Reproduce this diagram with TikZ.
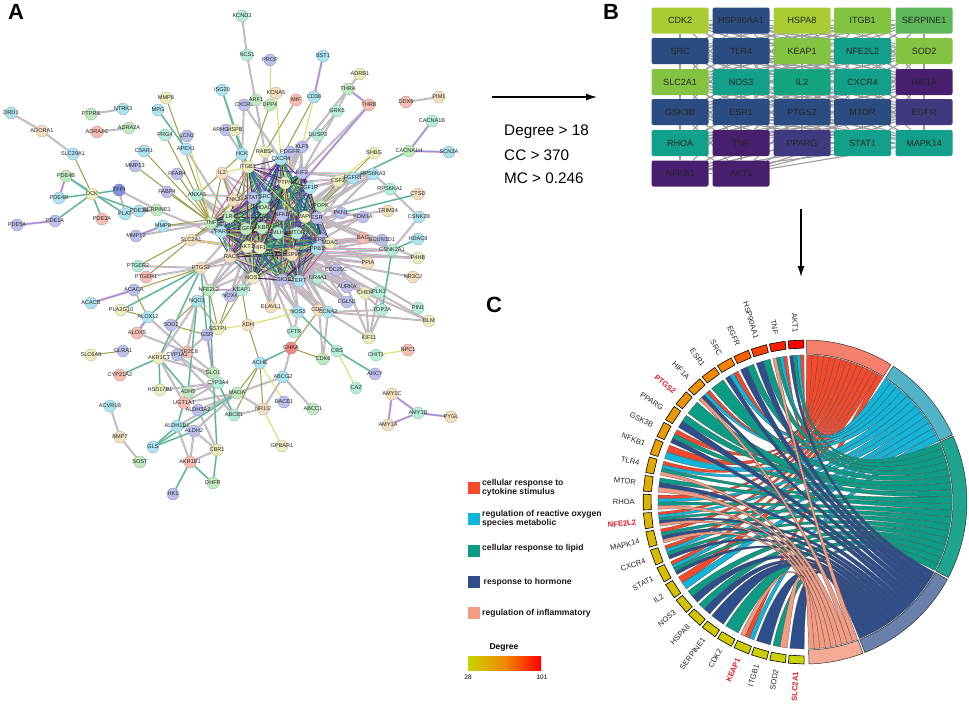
\documentclass[tikz,border=0pt]{standalone}
\usepackage{fontspec}
\setmainfont{Liberation Sans}
\usetikzlibrary{arrows.meta,backgrounds}

\def\cx{805}
\def\cy{502}
\def\rr{147}

\definecolor{nm}{HTML}{B6EEDA}
\definecolor{nb}{HTML}{AEE4F2}
\definecolor{nv}{HTML}{BCC0EC}
\definecolor{nt}{HTML}{F3DFC0}
\definecolor{ng}{HTML}{C0EBBF}
\definecolor{nr}{HTML}{F6BDB2}
\definecolor{ny}{HTML}{EDEDC0}
\definecolor{nd}{HTML}{8090DC}
\definecolor{nc}{HTML}{F08A88}
\definecolor{blime}{HTML}{A9CC35}
\definecolor{bgrn}{HTML}{82C341}
\definecolor{bmid}{HTML}{5DB85A}
\definecolor{bnav}{HTML}{2B4C80}
\definecolor{btea}{HTML}{12A08A}
\definecolor{bil}{HTML}{12A47F}
\definecolor{bpur}{HTML}{471F6E}
\definecolor{bind}{HTML}{3F3A80}
\definecolor{tR}{HTML}{F4492D}
\definecolor{tC}{HTML}{11B5DA}
\definecolor{tT}{HTML}{0C9C86}
\definecolor{tN}{HTML}{2E4F8C}
\definecolor{tS}{HTML}{F39B83}
\definecolor{rampA}{HTML}{C8D400}
\definecolor{rampB}{HTML}{DDB300}
\definecolor{rampC}{HTML}{F58200}
\definecolor{rampD}{HTML}{FF0000}
\definecolor{hitred}{HTML}{E8192C}
\definecolor{hA}{HTML}{C83A9C}
\definecolor{hB}{HTML}{30B060}
\definecolor{hC}{HTML}{6A2CA0}
\definecolor{hD}{HTML}{8C8C28}
\definecolor{hE}{HTML}{0E8080}
\definecolor{hF}{HTML}{303040}
\definecolor{hG}{HTML}{3A50C8}
\definecolor{hH}{HTML}{D8DC60}

\newcommand\hit{\bfseries\color{hitred}}
\newcommand\plain{\color{black!85}}

\newcommand\chordset[5]{%
\foreach \g/\j/\k [count=\t from 0] in {#5} {
\pgfmathsetmacro\ga{360-3.2-6.68*\g-2.8+5.6*\j/\k-90}
\pgfmathsetmacro\gb{\ga+5.6/\k}
\pgfmathsetmacro\ta{#2+(#3-#2)*\t/#4-90}
\pgfmathsetmacro\tb{\ta+(#3-#2)/#4}
\filldraw[chord,fill=#1] (\ga:\rr) -- (\gb:\rr) .. controls (\gb:49) and (\ta:49) .. (\ta:\rr) -- (\tb:\rr) .. controls (\tb:49) and (\ga:49) .. cycle;
}}

\newcommand\termband[3]{%
\draw[line width=0.5pt,draw=black!80,fill=#1] plot[domain=#2:#3,samples=30] ({162*sin(\x)},{-162*cos(\x)}) -- plot[domain=#3:#2,samples=30] ({148*sin(\x)},{-148*cos(\x)}) -- cycle;
}

\tikzset{
gene/.style={circle,inner sep=0pt,minimum size=12pt,line width=0.4pt,font=\fontsize{5.6}{6}\selectfont,text=black!85},
lnkA/.style={line width=0.5pt,draw=hA!55,double=hB!45,double distance=0.9pt},
lnkB/.style={line width=1pt,draw=hD!85},
lnkC/.style={line width=1pt,draw=hH},
lnkD/.style={line width=0.6pt,draw=hA!45,double=hG!60,double distance=1pt},
lnkE/.style={line width=0.5pt,draw=hB!60,double=hE!70,double distance=0.7pt},
hair/.style={line width=0.75pt},
boxgene/.style={rectangle,rounded corners=2pt,minimum width=57pt,minimum height=26pt,inner sep=0pt,font=\fontsize{9}{10}\selectfont,text=black!85},
lnkgrey/.style={line width=1.1pt,draw=black!38},
chord/.style={draw=black!70,line width=0.25pt},
legbox/.style={minimum size=12pt,inner sep=0pt},
legtxt/.style={anchor=west,inner sep=0pt,align=left,font=\fontsize{8.6}{9}\selectfont\bfseries,text=black!90},
glab/.style={anchor=east,inner sep=0pt,font=\fontsize{7.6}{8}\selectfont},
panel/.style={inner sep=0pt,font=\fontsize{22}{22}\selectfont\bfseries},
note/.style={anchor=west,inner sep=0pt,font=\fontsize{15.3}{16}\selectfont}
}

\begin{document}
\begin{tikzpicture}[x=1pt,y=-1pt,>={Latex[length=11pt,width=7pt]}]
\useasboundingbox (0,0) rectangle (969,704);

\node[panel] (labA) at (16,12) {A};
\node[panel] (labB) at (611,12) {B};
\node[panel] (labC) at (494,305) {C};

\foreach \n/\x/\y/\c in {KCND3/242/16/nm,NCS1/247/55/nm,DRD1/11/113/nb,ADORA1/42/131/nt,SLC29A1/73/154/nb,PTPRS/91/114/ng,NTRK3/123/109/nb,ADRA2C/97/132/nr,ADRA2A/129/128/ng,MMP8/166/98/ny,MPG/158/110/nb,ISG20/222/90/nb,CXCR6/244/105/nv,ARHGAP8/226/130/nv,HSPB/235/130/ny,PRG4/165/135/nm,LCN2/187/136/nv,APEX1/186/149/nb,C5AR1/144/151/nb,HCK/242/154/nb,MMP13/135/166/nv,FFAR4/177/174/nv,IL2/222/173/nt,ITGB1/248/167/ny,PDE4B/66/176/ng,DCK/92/194/ny,PDE4D/59/198/nb,TFPI/119/190/nd,FABP4/167/192/nv,ANXA5/197/195/nm,TNK2/233/200/nt,PLAT/125/214/nb,PDE3B/139/211/nb,SERPINE1/157/210/ng,PDE3A/102/219/nr,PDE1A/55/221/nv,PDE5A/17/225/nv,MMP9/163/226/nb,MMP12/136/236/nv,TNF/211/223/ng,TLR4/229/217/ng,PPARG/221/232/nb,SLC2A1/191/240/nt,RAC/230/257/nt,PTGER2/138/266/nm,PTGS2/201/268/nt,PTGER1/146/277/nr,ACACA/134/290/nv,NFE2L2/209/290/ng,KEAP1/242/290/nm,NOX4/230/296/nv,NQO1/197/301/nb,ACACB/91/303/nb,PLA2G10/121/310/ny,ALOX12/148/317/nb,XDH/248/325/nt,SOD2/171/325/nv,GSTP1/218/329/ny,ALOX5/137/333/nr,GSR/207/335/nv,SLC6A5/91/355/ny,GLRA1/123/351/nv,CYP2C8/187/352/nr,CYP1A1/177/355/nv,AKR1C1/159/358/ny,GLO1/213/373/ng,CYP21A2/120/375/nr,CYP3A4/218/383/nm,HSD17B1/160/390/ny,ADH5/188/392/ng,MAOA/237/393/ng,UGT1A1/184/403/nr,ALDH3A2/198/410/nv,ACVR1B/110/406/nb,ABCB1/234/415/nm,ALDH1B1/177/426/nb,ALDH2/194/431/nv,BMP7/120/437/nt,GLS/153/447/nb,CBR1/217/450/ny,AKR1B1/190/462/nr,SOST/140/462/ng,DHFR/213/483/ng,HK1/173/494/nv,PRCP/270/60/nv,BST1/323/56/nb,ADRB1/360/74/ny,THRA/348/89/ng,KCNA5/276/93/nt,ARF1/256/100/ng,DPP4/270/105/ng,MIF/296/100/nr,CD38/314/97/nb,GRK5/337/111/nm,THRB/369/105/nr,DDX6/406/102/nr,PIM1/439/97/nt,CACNA1B/432/121/nm,DUSP3/318/135/nm,KLF5/302/147/nv,PDGFR/290/152/nv,RAB5A/265/152/ny,CACNA1H/409/151/ng,SCN3A/449/152/nb,SHBG/374/153/ny,CXCR4/281/159/nb,KIF2/302/173/nv,FGFR1/353/178/nb,RPS6KA3/373/174/nb,CSF2/338/181/ny,PTPN/285/183/ny,RPS6KA1/390/189/nm,IGF1R/310/188/nb,CTSD/418/194/nt,SRC/265/197/nb,STAT3/253/198/nv,POPK/321/206/ng,PKN1/341/213/nv,TRIM24/388/211/nt,KDM1A/363/217/nv,CSNK2B/419/217/nb,HDAC/264/208/ng,NFKB/282/215/nv,MAPK/305/217/ny,ESR/317/218/nv,EGFR/246/229/ng,FKBP/262/228/ng,MLH/278/233/nm,MTOR/297/233/nm,ERBB/322/240/nv,MDAC/330/243/ny,PPB1/317/249/nb,AKT1/247/247/ny,HIF1/260/248/ny,HSP90/292/255/nt,BAG/363/238/nr,BCUN1D1/382/240/nv,HDAC8/418/239/nb,CSNK2A1/392/250/nm,P4HB/418/258/ny,PPIA/368/263/nt,NR3C2/413/277/nt,NOS2/253/278/ny,GSK3B/282/280/nv,TERT/299/281/nb,NR4A1/318/278/nm,CDC25C/336/270/nv,AURKA/347/287/nv,CHEK/365/293/ny,PLK1/379/292/nm,EGLN1/347/302/nv,PIN1/418/308/nm,ELAVL1/271/307/nt,NOS3/298/312/nb,CDC2/319/310/nt,CCNA2/328/312/nb,TOP2A/382/310/nm,BLM/429/321/ny,CFTR/294/332/nm,KIF11/369/338/ny,CHKA/291/348/nc,NPC1/408/350/nr,CBS/337/351/nm,CHIT1/376/355/nm,CDK6/323/359/ng,ACHE/260/363/nb,AHCY/375/374/nv,ABCG2/283/377/nb,CA2/356/388/nm,AMY1C/392/394/nt,BACE1/284/402/nv,NR1I2/263/409/nt,ABCC1/313/409/ng,AMY1B/418/413/nm,PYGL/451/417/nt,AMY1A/388/425/nt,GPBAR1/282/446/ny}
\node[gene,fill=\c,draw=\c!80!black] (\n) at (\x,\y) {\makebox[0pt]{\n}};

\begin{pgfonlayer}{background}
\fill[white] (0,0) rectangle (969,704);
\foreach \a/\b in {DRD1/ADORA1,ADORA1/SLC29A1,PTPRS/NTRK3,ADRA2C/ADRA2A,KCND3/NCS1,NCS1/RAB5A,DDX6/PIM1,ACVR1B/BMP7,BMP7/SOST,TFPI/PLAT,TFPI/SERPINE1,ALOX12/ALOX5,ALOX5/CYP2C8,ALOX12/CYP2C8,MMP9/TNF,MMP12/TNF,SERPINE1/AKT1,PLAT/SERPINE1,APEX1/AKT1,CXCR6/CXCR4,CXCR6/HCK,ARHGAP8/HCK,GRK5/THRA,GRK5/KIF2,DUSP3/GRK5,THRB/KIF2,KLF5/KIF2,KLF5/AKT1,ADRB1/THRA,THRA/KLF5,CSF2/SRC,FGFR1/KIF2,FGFR1/PTPN,FGFR1/SRC,RPS6KA3/KIF2,RPS6KA3/RPS6KA1,RPS6KA1/CSNK2B,RPS6KA1/MAPK,CSNK2B/CSNK2A1,KDM1A/HIF1,PKN1/SRC,TRIM24/ESR,CSNK2A1/AKT1,BCUN1D1/ERBB,BAG/PPB1,P4HB/HIF1,PPIA/HSP90,NR3C2/HSP90,PIN1/PPB1,BLM/CCNA2,BLM/CHEK,BLM/CDC25C,TOP2A/CCNA2,TOP2A/CDC25C,TOP2A/PLK1,KIF11/CHEK,KIF11/TOP2A,KIF11/PLK1,KIF11/CCNA2,KIF11/AURKA,AURKA/PPB1,CDC25C/AKT1,CHEK/AKT1,PLK1/HIF1,EGLN1/HIF1,CCNA2/HIF1,CDC2/AKT1,NR4A1/AKT1,TERT/AKT1,NOS3/AKT1,NOS3/CFTR,CFTR/HIF1,CDK6/CCNA2,CDK6/CDC2,ABCG2/CHKA,ABCG2/MAOA,ABCG2/ABCC1,ABCG2/NR1I2,NR1I2/MAOA,NR1I2/ABCB1,ELAVL1/AKT1,NOS2/AKT1,GSK3B/AKT1,NFE2L2/KEAP1,NFE2L2/AKT1,KEAP1/HIF1,NOX4/AKT1,ACACB/ACACA,HSD17B1/CYP3A4,ADH5/CYP3A4,UGT1A1/CYP3A4,UGT1A1/AKR1C1,ALDH3A2/CBR1,ALDH2/CBR1,AKR1B1/CBR1,GSR/CYP2C8,GLO1/GSR,GLO1/AKR1C1,CYP2C8/GLO1,CYP1A1/ABCB1,CYP1A1/CYP3A4,MAOA/ALDH2,MAOA/ALDH3A2,MAOA/UGT1A1,ALDH1B1/MAOA,AKR1B1/ALDH1B1,AKR1B1/ALDH2,NQO1/CYP2C8,NQO1/AKR1C1,PTGS2/AKT1,PTGS2/NFE2L2,PTGER2/PTGS2,PTGER1/PTGS2}
\draw[lnkA] (\a) -- (\b);
\foreach \a in {POPK,PKN1,KDM1A,CSF2,FGFR1,RPS6KA3,BAG,BCUN1D1,CSNK2A1,P4HB,PPIA,NR4A1,CDC25C,AURKA,CHEK,EGLN1,CCNA2,CDC2,NOS3,ELAVL1,NOX4,KEAP1,NFE2L2,PTGS2,SLC2A1,ANXA5,TNK2,IL2,HCK,RAB5A,PDGFR,KLF5,TNF,TLR4,PPARG,RAC}
\foreach \b in {AKT1,HIF1,HSP90,SRC}
\draw[lnkA] (\a) -- (\b);
\foreach \a/\b in {SLC29A1/DCK,C5AR1/TNF,MMP13/TNF,FFAR4/TNF,FABP4/TNF,ANXA5/TNF,MMP8/TNF,PRG4/TNF,ANXA5/HCK,CD38/CXCR4,MIF/RAB5A,DPP4/ITGB1,PLA2G10/ALOX12,SOD2/GSR,ACACA/ALOX12,SLC6A5/GLRA1,PTGER1/TNF,PTGER2/TLR4,SLC2A1/TNF,MMP9/TLR4,IL2/TNF,IL2/AKT1,TNK2/TNF,TNK2/SRC,NQO1/SOD2,NQO1/GSTP1,NOX4/GSTP1,KEAP1/GSTP1,KEAP1/XDH,XDH/ACHE,ACHE/MAOA,ACHE/ABCB1,CHKA/CDC2,CHKA/CDK6,ACHE/NR1I2,CSF2/MTOR,SHBG/POPK,ACACA/PTGS2,GSTP1/NFE2L2,NQO1/NFE2L2,HSPB/ITGB1}
\draw[lnkB] (\a) -- (\b);
\foreach \a/\b in {PRCP/DPP4,KCNA5/CXCR4,KCNA5/DPP4,CHIT1/NPC1,CBS/CA2,NR1I2/GPBAR1,XDH/GSTP1,XDH/NOS3,ACHE/BACE1,LCN2/TNF,SHBG/CSF2,CD38/KLF5,ELAVL1/NOS3,GSR/GSTP1,IL2/ITGB1,SLC2A1/AKT1}
\draw[lnkC] (\a) -- (\b);
\foreach \a/\b in {BST1/CD38,CACNA1B/CACNA1H,CACNA1H/SCN3A,ACACA/ACACB,PDE4B/PDE4D,PDE1A/PDE5A,AMY1C/AMY1B,AMY1C/AMY1A,AMY1A/AMY1B,AMY1B/PYGL,THRA/THRB,MMP9/MMP12,ALOX5/ALOX12,CCNA2/CDC2,GSR/GLO1,THRB/AKT1,CYP1A1/CYP2C8}
\draw[lnkD] (\a) -- (\b);
\foreach \a/\b in {PDE4B/DCK,PDE4B/PLAT,PDE4D/DCK,PDE1A/DCK,PDE3A/DCK,DCK/PDE3B,MPG/APEX1,ISG20/ITGB1,ISG20/HCK,CHKA/ACHE,CBS/AHCY,AKR1B1/DHFR,ALDH1B1/GLS,ALDH2/GLS,HK1/AKR1B1,CTSD/PKN1,CACNA1H/FGFR1,CBR1/DHFR,GLS/MAOA,PLA2G10/PTGS2,ALOX12/PTGS2,AKR1C1/PTGS2,CYP21A2/AKR1C1,NOS3/CBS,HSD17B1/AKR1C1,GSR/PTGS2,GLO1/NFE2L2,CBR1/GLO1,ADH5/NQO1,ADH5/AKR1C1,ALDH1B1/UGT1A1,ABCB1/CYP3A4,HDAC8/CSNK2A1,CSNK2A1/TOP2A,CHEK/PLK1,TFPI/DCK}
\draw[lnkE] (\a) -- (\b);
\foreach \a [count=\i] in {STAT3,SRC,HDAC,NFKB,MAPK,ESR,TLR4,TNF,EGFR,FKBP,MLH,MTOR,PPARG,AKT1,HIF1,HSP90,RAC,PPB1,GSK3B,TERT,NOS2,PTPN,CXCR4,ITGB1,IGF1R,KIF2,ERBB,MDAC}
\foreach \b [count=\j] in {STAT3,SRC,HDAC,NFKB,MAPK,ESR,TLR4,TNF,EGFR,FKBP,MLH,MTOR,PPARG,AKT1,HIF1,HSP90,RAC,PPB1,GSK3B,TERT,NOS2,PTPN,CXCR4,ITGB1,IGF1R,KIF2,ERBB,MDAC} {
\ifnum\i<\j
\pgfmathsetmacro\hc{{"hA","hB","hC","hD","hE","hF","hG","hH"}[int(mod(\i*3+\j*5,8))]}
\draw[hair,draw=\hc] (\a) -- (\b);
\fi
}
\end{pgfonlayer}

\coordinate (arrR) at (492,97);
\coordinate (arrE) at (597,97);
\coordinate (arrD) at (801,209);
\coordinate (arrF) at (801,277);
\draw[->,line width=1.3pt] (arrR) -- (arrE);
\draw[->,line width=1.3pt] (arrD) -- (arrF);
\node[note] (degT) at (504,132) {Degree > 18};
\node[note] (ccT) at (504,155) {CC > 370};
\node[note] (mcT) at (504,178) {MC > 0.246};

\foreach \n/\x/\y/\c in {CDK2/680/20.5/blime,HSP90AA1/741/20.5/bnav,HSPA8/802/20.5/blime,ITGB1/862.5/20.5/bgrn,SERPINE1/924/20.5/bmid,SRC/680/51/bnav,TLR4/741/51/bnav,KEAP1/802/51/bgrn,NFE2L2/862.5/51/btea,SOD2/924/51/bgrn,SLC2A1/680/82/bgrn,NOS3/741/82/btea,IL2/802/82/bil,CXCR4/862.5/82/btea,HIF1A/924/82/bpur,GSK3B/680/112/bnav,ESR1/741/112/bnav,PTGS2/802/112/bnav,MTOR/862.5/112/bnav,EGFR/924/112/bind,RHOA/680/143/btea,TNF/741/143/bpur,PPARG/802/143/bind,STAT1/862.5/143/btea,MAPK14/924/143/btea,NFKB1/680/173.5/bpur,AKT1/741/173.5/bpur}
\node[boxgene,fill=\c] (b\n) at (\x,\y) {\n};

\begin{pgfonlayer}{background}
\foreach \r/\s in {{CDK2,HSP90AA1,HSPA8,ITGB1,SERPINE1}/{SRC,TLR4,KEAP1,NFE2L2,SOD2},{SRC,TLR4,KEAP1,NFE2L2,SOD2}/{SLC2A1,NOS3,IL2,CXCR4,HIF1A},{SLC2A1,NOS3,IL2,CXCR4,HIF1A}/{GSK3B,ESR1,PTGS2,MTOR,EGFR},{GSK3B,ESR1,PTGS2,MTOR,EGFR}/{RHOA,TNF,PPARG,STAT1,MAPK14},{RHOA,TNF,PPARG,STAT1,MAPK14}/{NFKB1,AKT1},{CDK2,HSP90AA1,HSPA8,ITGB1,SERPINE1}/{SLC2A1,NOS3,IL2,CXCR4,HIF1A},{SRC,TLR4,KEAP1,NFE2L2,SOD2}/{GSK3B,ESR1,PTGS2,MTOR,EGFR},{SLC2A1,NOS3,IL2,CXCR4,HIF1A}/{RHOA,TNF,PPARG,STAT1,MAPK14},{GSK3B,ESR1,PTGS2,MTOR,EGFR}/{NFKB1,AKT1}}
\foreach \a in \r
\foreach \b in \s
\draw[lnkgrey] (b\a) -- (b\b);
\foreach \a/\b in {CDK2/HSP90AA1,HSP90AA1/HSPA8,HSPA8/ITGB1,ITGB1/SERPINE1,SRC/TLR4,TLR4/KEAP1,KEAP1/NFE2L2,NFE2L2/SOD2,SLC2A1/NOS3,NOS3/IL2,IL2/CXCR4,CXCR4/HIF1A,GSK3B/ESR1,ESR1/PTGS2,PTGS2/MTOR,MTOR/EGFR,RHOA/TNF,TNF/PPARG,PPARG/STAT1,STAT1/MAPK14,NFKB1/AKT1}
\draw[lnkgrey] (b\a) -- (b\b);
\end{pgfonlayer}

\begin{scope}[shift={(\cx,\cy)}]
\chordset{tR}{0.6}{32}{14}{0/3/4,1/3/4,4/2/3,6/3/4,9/2/3,10/1/2,11/3/4,13/3/4,14/4/5,15/3/4,16/3/4,17/3/4,18/1/2,23/1/3}
\chordset{tC}{33}{65.5}{12}{0/2/4,1/2/4,4/1/3,6/2/4,10/0/2,11/2/4,13/2/4,14/3/5,16/2/4,17/2/4,18/0/2,23/0/3}
\chordset{tT}{66}{117.8}{19}{0/1/4,1/1/4,2/1/2,3/1/2,5/0/1,7/0/1,8/1/2,9/1/3,11/1/4,12/2/3,13/1/4,14/2/5,15/2/4,16/1/4,17/1/4,19/1/2,20/1/2,22/0/1,25/1/2}
\chordset{tN}{118.5}{158.3}{17}{0/0/4,2/0/2,3/0/2,4/0/3,6/1/4,8/0/2,9/0/3,12/1/3,14/1/5,15/1/4,16/0/4,17/0/4,19/0/2,20/0/2,21/0/1,24/0/1,26/0/1}
\chordset{tS}{159}{178.6}{9}{1/0/4,6/0/4,11/0/4,12/0/3,13/0/4,14/0/5,15/0/4,23/2/3,25/0/2}
\termband{tR!70!white}{0.6}{32}
\termband{tC!70!gray!85!white}{33}{65.5}
\termband{tT!92!white}{66}{117.8}
\termband{tN!72!white}{118.5}{158.3}
\termband{tS!85!white}{159}{178.6}
\foreach \n/\i/\f in {AKT1/0/\plain,TNF/1/\plain,HSP90AA1/2/\plain,EGFR/3/\plain,SRC/4/\plain,ESR1/5/\plain,HIF1A/6/\plain,PTGS2/7/\hit,PPARG/8/\plain,GSK3B/9/\plain,NFKB1/10/\plain,TLR4/11/\plain,MTOR/12/\plain,RHOA/13/\plain,NFE2L2/14/\hit,MAPK14/15/\plain,CXCR4/16/\plain,STAT1/17/\plain,IL2/18/\plain,NOS3/19/\plain,HSPA8/20/\plain,SERPINE1/21/\plain,CDK2/22/\plain,KEAP1/23/\hit,ITGB1/24/\plain,SOD2/25/\plain,SLC2A1/26/\hit} {
\pgfmathsetmacro\ga{360-3.2-6.68*\i-2.8-90}
\pgfmathsetmacro\gb{\ga+5.6}
\pgfmathsetmacro\gc{\ga+2.8}
\pgfmathsetmacro\rot{6.68*\i-86.8}
\ifnum\i>12
\pgfmathtruncatemacro\pc{(\i-13)/13*100}
\colorlet{gcol}{rampA!\pc!rampB}
\else\ifnum\i>3
\pgfmathtruncatemacro\pc{(\i-4)/9*100}
\colorlet{gcol}{rampB!\pc!rampC}
\else
\pgfmathtruncatemacro\pc{\i/4*100}
\colorlet{gcol}{rampC!\pc!rampD}
\fi\fi
\draw[line width=0.6pt,fill=gcol] (\ga:154) -- (\ga:162) -- (\gb:162) -- (\gb:154) -- cycle;
\node[glab,rotate=\rot] (gl\i) at (\gc:170) {\f\n};
}
\end{scope}

\node[legbox,fill=tR] (legR) at (474,488) {};
\node[legbox,fill=tC] (legC) at (474,519) {};
\node[legbox,fill=tT] (legT) at (474,550.5) {};
\node[legbox,fill=tN] (legN) at (474,582) {};
\node[legbox,fill=tS] (legS) at (474,613) {};
\node[legtxt] (txtR) at (482,488) {cellular response to\\cytokine stimulus};
\node[legtxt] (txtC) at (482,519) {regulation of reactive oxygen\\species metabolic};
\node[legtxt] (txtT) at (482,548.5) {cellular response to lipid};
\node[legtxt] (txtN) at (483.5,582) {response to hormone};
\node[legtxt] (txtS) at (482,613) {regulation of inflammatory};
\node[inner sep=0pt,font=\fontsize{8.5}{9}\selectfont\bfseries] (degL) at (504,647) {Degree};
\shade[left color=rampA,right color=rampD,middle color=rampC!85!rampB] (468,656) rectangle (541,670);
\node[inner sep=0pt,font=\fontsize{6.5}{7}\selectfont] (deg28) at (468,677) {28};
\node[inner sep=0pt,font=\fontsize{6.5}{7}\selectfont] (deg101) at (542,677) {101};
\end{tikzpicture}
\end{document}
